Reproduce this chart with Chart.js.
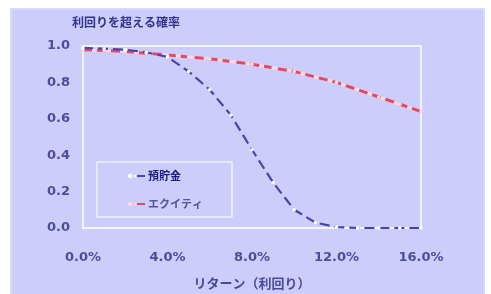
<!DOCTYPE html>
<html><head><meta charset="utf-8">
<script src="https://cdn.jsdelivr.net/npm/chart.js@4"></script>
<style>html,body{margin:0;padding:0;background:#fff;}#c{display:block;}</style>
</head><body>
<div style="width:491px;height:294px;"><canvas id="c" width="491" height="294"></canvas></div>
<script>
const returns = [0,0.01,0.02,0.03,0.04,0.05,0.06,0.07,0.08,0.09,0.10,0.11,0.12,0.13,0.14,0.15,0.16];
const deposits = [0.99,0.985,0.98,0.965,0.94,0.86,0.76,0.62,0.43,0.25,0.10,0.03,0.005,0,0,0,0];
const equity = [0.98,0.975,0.97,0.96,0.95,0.94,0.93,0.915,0.90,0.88,0.86,0.83,0.80,0.76,0.72,0.68,0.64];
const xTicks = [0,0.04,0.08,0.12,0.16];
const chartTitle = '利回りを超える確率';
const xTitle = 'リターン（利回り）';
const seriesNames = ['預貯金','エクイティ'];

const pts = arr => returns.map((r,i)=>({x:r,y:arr[i]}));

const deco = {
  id:'deco',
  beforeDraw(chart){
    const c = chart.ctx;
    c.save();
    c.fillStyle='#ffffff'; c.fillRect(0,0,491,294);
    c.fillStyle='#cdcdfb'; c.fillRect(10,8,475,286);
    c.strokeStyle='#d8d8fc'; c.lineWidth=2; c.strokeRect(11,9,473,290);
    c.restore();
  },
  beforeDatasetsDraw(chart){
    const a = chart.chartArea, c = chart.ctx;
    c.save();
    c.strokeStyle='#f4f4ff'; c.lineWidth=2;
    c.strokeRect(a.left,a.top,a.right-a.left,a.bottom-a.top);
    c.restore();
  },
  afterDraw(chart){
    const c = chart.ctx, a = chart.chartArea;
    c.save();
    c.textBaseline='middle';
    c.font='bold 12px "Noto Sans CJK JP"';
    c.fillStyle='#33338a'; c.textAlign='left';
    c.fillText(chartTitle,72,22);
    c.font='bold 13px "Noto Sans CJK JP"';
    c.fillStyle='#4a4a96'; c.textAlign='center';
    c.fillText(xTitle,(a.left+a.right)/2,283);
    // legend
    c.strokeStyle='#f0f0ff'; c.lineWidth=1.5;
    c.strokeRect(97,162,135,55);
    const items = [
      {y:176, line:'#4646a8', pt:'#ffffff', text:'#1c1c7c'},
      {y:204, line:'#e04a64', pt:'#ffd8e0', text:'#55559a'}
    ];
    items.forEach((it,i)=>{
      c.strokeStyle=it.line; c.lineWidth=2;
      c.beginPath(); c.moveTo(137,it.y); c.lineTo(145,it.y); c.stroke();
      c.fillStyle=it.pt;
      c.beginPath(); c.arc(130,it.y,2.2,0,Math.PI*2); c.fill();
      c.beginPath(); c.arc(135,it.y,1.5,0,Math.PI*2); c.fill();
      c.font='bold 11px "Noto Sans CJK JP"';
      c.fillStyle=it.text; c.textAlign='left';
      c.fillText(seriesNames[i],148,it.y);
    });
    c.restore();
  }
};

new Chart(document.getElementById('c'),{
  type:'line',
  data:{datasets:[
    {label:seriesNames[0],data:pts(deposits),borderColor:'#4646a8',borderWidth:2.2,borderDash:[10,5],
     pointRadius:1.8,pointBackgroundColor:'#ffffff',pointBorderWidth:0,tension:0,clip:false},
    {label:seriesNames[1],data:pts(equity),borderColor:'#e04a64',borderWidth:3,borderDash:[9,5],
     pointRadius:1.8,pointBackgroundColor:'#ffe0e8',pointBorderWidth:0,tension:0,clip:false},
    {label:'_eqbase',data:pts(equity),borderColor:'#ffd6e2',borderWidth:3,pointRadius:0,tension:0,clip:false}
  ]},
  options:{
    responsive:false,animation:false,
    layout:{padding:{left:0,right:70,top:46,bottom:0}},
    plugins:{legend:{display:false},title:{display:false},tooltip:{enabled:false}},
    scales:{
      x:{type:'linear',min:0,max:0.16,
        afterFit(s){s.height=66;},
        afterBuildTicks(s){s.ticks=xTicks.map(v=>({value:v}));},
        grid:{display:false,drawTicks:false},border:{display:false},
        ticks:{padding:22,color:'#4d4d99',font:{family:'DejaVu Sans',size:13,weight:'bold'},
          callback:v=>(v*100).toFixed(1)+'%',maxRotation:0,autoSkip:false}},
      y:{min:0,max:1,
        afterFit(s){s.width=83;},
        grid:{display:false,drawTicks:false},border:{display:false},
        ticks:{stepSize:0.2,padding:13,color:'#4d4d99',font:{family:'DejaVu Sans',size:13,weight:'bold'},
          callback:v=>v.toFixed(1)}}
    }
  },
  plugins:[deco]
});
</script>
</body></html>
